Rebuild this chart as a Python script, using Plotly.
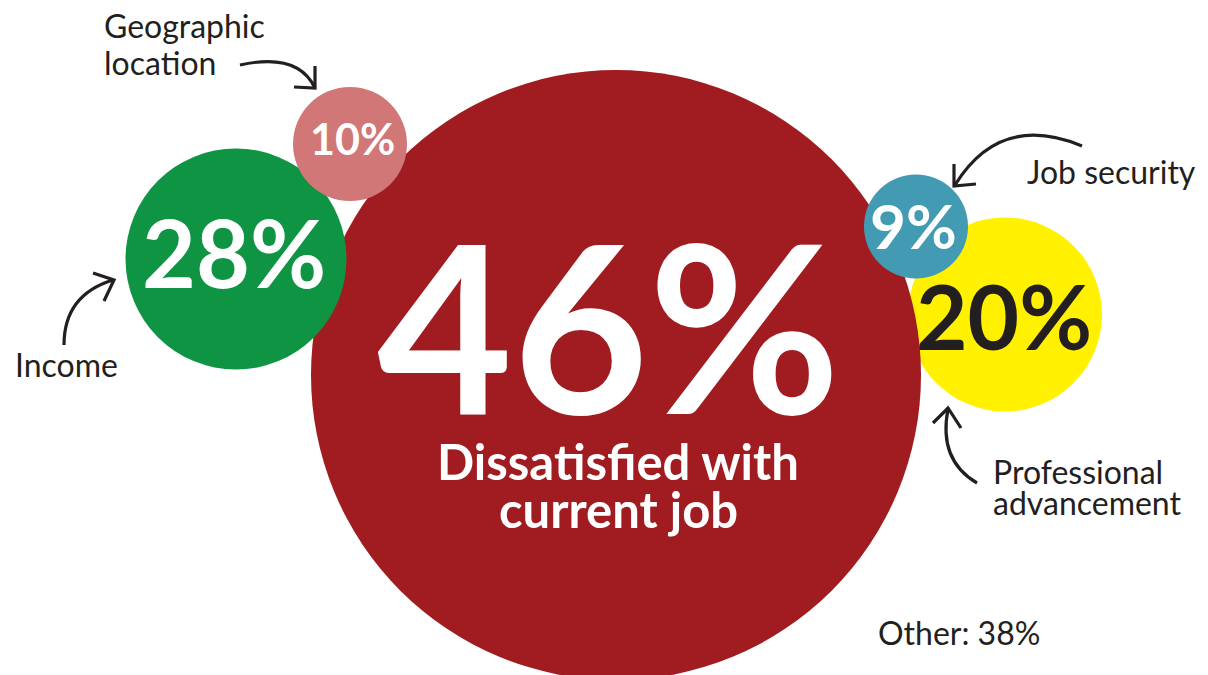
import plotly.graph_objects as go

# ---- data ----
categories = ["Professional advancement", "Dissatisfied with current job", "Income",
              "Geographic location", "Job security"]
values = [20, 46, 28, 10, 9]
other_value = 38
caption = ["Dissatisfied with", "current job"]

# ---- layout (pixel space: x 0..1208, y 0..675 top-down) ----
centers_x = [1005, 616, 236, 350, 916]
centers_y = [314.5, 375, 259, 144, 226.5]
radii = [97, 305, 110.5, 57, 52]
fills = ["#FFF100", "#A01C21", "#0F9444", "#D27777", "#429BB3"]
value_text_x = [1004, 608, 234, 352, 913]
value_text_y = [315, 323.5, 251.5, 138.5, 224.5]
value_sizes = [89, 234, 93, 43, 62]
value_colors = ["#231F20", "#FFFFFF", "#FFFFFF", "#FFFFFF", "#FFFFFF"]

W, H = 1208, 675
DARK = "#231F20"
FONT = "Lato"

fig = go.Figure()
fig.add_trace(go.Scatter(x=[0, W], y=[0, H], mode="markers",
                         marker=dict(opacity=0), hoverinfo="skip", showlegend=False))

shapes = []
for cx, cy, r, c in zip(centers_x, centers_y, radii, fills):
    shapes.append(dict(type="circle", xref="x", yref="y",
                       x0=cx - r, x1=cx + r, y0=cy - r, y1=cy + r,
                       fillcolor=c, line=dict(width=0), layer="above"))

arrow_paths = [
    "M 240,65 Q 298,52 315,88", "M 294,87 L 315,88 L 315,66",
    "M 64,345 Q 64,295 113,280", "M 93,273 L 114,280 L 104,301",
    "M 1082,146 Q 1000,112 955,185", "M 954,164 L 954,186 L 976,184",
    "M 977,483 Q 938,460 948,409", "M 933,423 L 948,408 L 961,428",
]
for p in arrow_paths:
    shapes.append(dict(type="path", xref="x", yref="y", path=p,
                       line=dict(color=DARK, width=3.2), layer="above"))

annotations = []
for v, tx, ty, s, col in zip(values, value_text_x, value_text_y, value_sizes, value_colors):
    annotations.append(dict(x=tx, y=ty, xref="x", yref="y", text=f"{v}%",
                            showarrow=False, xanchor="center", yanchor="middle",
                            font=dict(family=FONT, size=s, color=col, weight=700)))

for line, ty in zip(caption, [461, 509]):
    annotations.append(dict(x=618, y=ty, xref="x", yref="y", text=line, showarrow=False,
                            xanchor="center", yanchor="middle",
                            font=dict(family=FONT, size=49, color="#FFFFFF", weight=700)))

label_font = dict(family=FONT, size=32, color=DARK)
labels = [
    ("Geographic", 102, 25, "left"),
    ("location", 102, 62, "left"),
    ("Income", 13, 364, "left"),
    ("Job security", 1198, 171, "right"),
    ("Professional", 991, 471, "left"),
    ("advancement", 991, 502, "left"),
    (f"Other: {other_value}%", 876, 632.5, "left"),
]
for t, x, y, xa in labels:
    annotations.append(dict(x=x, y=y, xref="x", yref="y", text=t, showarrow=False,
                            xanchor=xa, yanchor="middle", font=label_font))

fig.update_layout(
    width=W, height=H, margin=dict(l=0, r=0, t=0, b=0),
    paper_bgcolor="white", plot_bgcolor="white",
    xaxis=dict(range=[0, W], visible=False, fixedrange=True),
    yaxis=dict(range=[H, 0], visible=False, fixedrange=True),
    shapes=shapes, annotations=annotations, showlegend=False,
)

fig.write_html("out.html", config=dict(displayModeBar=False))
